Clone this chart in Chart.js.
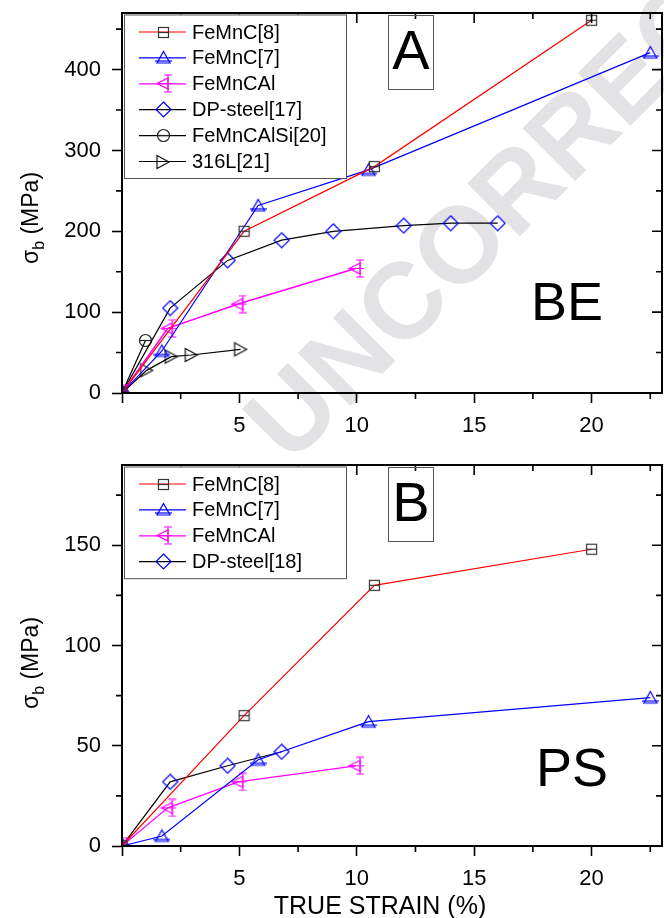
<!DOCTYPE html>
<html lang="en">
<head>
<meta charset="utf-8">
<title>Bulge stress vs. true strain</title>
<script src="https://cdn.jsdelivr.net/npm/chart.js"></script>
<style>
  body { margin: 0; background: #fff; }
  #page { position: relative; width: 664px; height: 918px; overflow: hidden; }
  #page canvas { position: absolute; left: 0; }
  #stamp { top: 0; z-index: 0; }
  #chartBE { top: 0; z-index: 1; }
  #chartPS { top: 445px; z-index: 1; }
</style>
</head>
<body>
<div id="page">
  <canvas id="stamp" width="664" height="918"></canvas>
  <canvas id="chartBE" width="664" height="445"></canvas>
  <canvas id="chartPS" width="664" height="473"></canvas>
</div>

<script>
// ---- data: true strain (%) vs sigma_b (MPa) ----

// panel A, biaxial expansion
const beFeMnC8X = [0, 5.2, 10.75, 20];
const beFeMnC8Y = [0, 200, 280, 461];
const beFeMnC7X = [0, 1.7, 5.8, 10.5, 22.5];
const beFeMnC7Y = [0, 52, 232, 276, 421];
const beFeMnCAlX = [0, 1.95, 4.95, 9.95];
const beFeMnCAlY = [0, 80, 110, 154];
const beDP17X = [0, 2.05, 4.5, 6.8, 9.0, 12.0, 14.0, 16.0];
const beDP17Y = [0, 105, 164, 189, 200, 207, 210, 210];
const beFeMnCAlSiX = [0, 1.0];
const beFeMnCAlSiY = [0, 65];
const be316LX = [0, 1.05, 2.1, 2.95, 5.05];
const be316LY = [0, 28, 45, 47, 54];

// panel B, plane strain
const psFeMnC8X = [0, 5.2, 10.75, 20];
const psFeMnC8Y = [0, 65, 130, 148];
const psFeMnC7X = [0, 1.7, 5.8, 10.5, 22.5];
const psFeMnC7Y = [0, 5, 43, 62, 74];
const psFeMnCAlX = [0, 1.95, 4.95, 9.95];
const psFeMnCAlY = [0, 19, 32, 40];
const psDP18X = [0, 2.05, 4.5, 6.8];
const psDP18Y = [0, 32, 40, 47];

// axis ticks
const xTicks = [0, 5, 10, 15, 20];
const xTickLabels = ['', '5', '10', '15', '20'];
const xMinor = [2.5, 7.5, 12.5, 17.5, 22.5];
const beYTicks = [0, 100, 200, 300, 400];
const beYMinor = [50, 150, 250, 350, 450];
const psYTicks = [0, 50, 100, 150];
const psYMinor = [25, 75, 125, 175];

const FONT = '"Liberation Sans", Arial, sans-serif';
Chart.defaults.font.family = FONT;
Chart.defaults.color = '#000';

// ---- point symbols, drawn once into small canvases ----
function marker(w, h, draw) {
  const c = document.createElement('canvas');
  c.width = w; c.height = h;
  const g = c.getContext('2d');
  g.lineWidth = 1.2;
  draw(g);
  return c;
}

const mkSquare = marker(13, 13, g => {
  g.strokeStyle = '#333';
  g.strokeRect(1.5, 1.5, 10, 10);
  g.beginPath(); g.moveTo(1.5, 6.5); g.lineTo(11.5, 6.5); g.stroke();
});
const mkTriUp = marker(17, 15, g => {
  g.strokeStyle = '#0000ff';
  g.beginPath(); g.moveTo(8.5, 1.5); g.lineTo(15, 13); g.lineTo(2, 13); g.closePath(); g.stroke();
  g.beginPath(); g.moveTo(0, 11); g.lineTo(17, 11); g.stroke();
});
const mkTriLeft = marker(19, 19, g => {
  g.strokeStyle = '#ff00ff';
  g.beginPath(); g.moveTo(3, 9.5); g.lineTo(14, 4); g.lineTo(14, 15); g.closePath(); g.stroke();
  g.beginPath();
  g.moveTo(3, 9.5); g.lineTo(18, 9.5);
  g.moveTo(14, 1); g.lineTo(14, 18);
  g.moveTo(10, 1); g.lineTo(18, 1);
  g.moveTo(10, 18); g.lineTo(18, 18);
  g.stroke();
});
const mkDiamond = marker(17, 17, g => {
  g.strokeStyle = '#0000ff';
  g.beginPath(); g.moveTo(8.5, 1); g.lineTo(16, 8.5); g.lineTo(8.5, 16); g.lineTo(1, 8.5); g.closePath(); g.stroke();
});
const mkCircle = marker(15, 15, g => {
  g.strokeStyle = '#222';
  g.beginPath(); g.arc(7.5, 7.5, 6, 0, Math.PI * 2); g.stroke();
  g.beginPath(); g.moveTo(1.5, 7.5); g.lineTo(13.5, 7.5); g.stroke();
});
const mkTriRight = marker(16, 16, g => {
  g.strokeStyle = '#111';
  g.beginPath(); g.moveTo(2, 1.5); g.lineTo(14, 8); g.lineTo(2, 14.5); g.closePath(); g.stroke();
});

function series(label, xs, ys, color, sym, width) {
  return {
    label,
    data: xs.map((x, i) => ({ x, y: ys[i] })),
    borderColor: color,
    backgroundColor: color,
    borderWidth: width || 1.2,
    pointStyle: sym,
    pointRadius: 6,
    pointHoverRadius: 6,
    tension: 0
  };
}

// ---- box frame, inner/minor ticks, legend, labels ----
const decor = {
  id: 'decor',
  afterDraw(chart, args, o) {
    const ctx = chart.ctx, a = chart.chartArea;
    const xs = chart.scales.x, ys = chart.scales.y;
    ctx.save();

    ctx.strokeStyle = '#000';
    ctx.lineWidth = 2;
    ctx.strokeRect(a.left, a.top, a.right - a.left, a.bottom - a.top);

    ctx.lineWidth = 1.6;
    ctx.beginPath();
    xTicks.forEach(v => {
      const px = xs.getPixelForValue(v);
      ctx.moveTo(px, a.top); ctx.lineTo(px, a.top + 10);
    });
    xMinor.forEach(v => {
      const px = xs.getPixelForValue(v);
      ctx.moveTo(px, a.top); ctx.lineTo(px, a.top + 6);
      ctx.moveTo(px, a.bottom); ctx.lineTo(px, a.bottom + 6);
    });
    o.yTicks.forEach(v => {
      const py = ys.getPixelForValue(v);
      ctx.moveTo(a.right, py); ctx.lineTo(a.right - 10, py);
    });
    o.yMinor.forEach(v => {
      const py = ys.getPixelForValue(v);
      ctx.moveTo(a.left, py); ctx.lineTo(a.left - 6, py);
      ctx.moveTo(a.right, py); ctx.lineTo(a.right - 6, py);
    });
    ctx.stroke();

    // legend
    const sets = chart.data.datasets;
    const lx = a.left + 2, ly = a.top + 1.5;
    const lw = 222, lh = 19 + (sets.length - 1) * 25.9 + 15;
    ctx.fillStyle = '#fff';
    ctx.fillRect(lx, ly, lw, lh);
    ctx.strokeStyle = '#555';
    ctx.lineWidth = 1;
    ctx.strokeRect(lx + 0.5, ly + 0.5, lw, lh);
    ctx.font = '20px ' + FONT;
    ctx.textBaseline = 'middle';
    ctx.textAlign = 'left';
    sets.forEach((ds, i) => {
      const ry = a.top + 19 + i * 25.9;
      ctx.strokeStyle = ds.borderColor;
      ctx.lineWidth = 1.2;
      ctx.beginPath(); ctx.moveTo(lx + 15, ry); ctx.lineTo(lx + 62, ry); ctx.stroke();
      const img = ds.pointStyle;
      ctx.drawImage(img, Math.round(lx + 39 - img.width / 2), Math.round(ry - img.height / 2));
      ctx.fillStyle = '#000';
      ctx.fillText(ds.label, lx + 68, ry + 1);
    });

    // panel letter in its box
    ctx.strokeStyle = '#555';
    ctx.lineWidth = 1;
    ctx.strokeRect(a.left + 266.5, a.top + 2.5, 45, 74);
    ctx.fillStyle = '#000';
    ctx.font = '56px ' + FONT;
    ctx.textAlign = 'center';
    ctx.fillText(o.letter, a.left + 289, a.top + 41);

    // forming mode
    ctx.font = '54px ' + FONT;
    ctx.fillText(o.mode, a.right - o.modeDx, a.top + o.modeDy);

    // y title: sigma_b (MPa)
    ctx.translate(38, 218);
    ctx.rotate(-Math.PI / 2);
    ctx.textAlign = 'left';
    ctx.textBaseline = 'alphabetic';
    const big = '23px ' + FONT, small = '16px ' + FONT;
    ctx.font = big;
    const wS = ctx.measureText('\u03c3').width;
    const wT = ctx.measureText(' (MPa)').width;
    ctx.font = small;
    const wB = ctx.measureText('b').width;
    let tx = -(wS + wB + wT) / 2;
    ctx.font = big; ctx.fillText('\u03c3', tx, 0); tx += wS;
    ctx.font = small; ctx.fillText('b', tx, 6); tx += wB;
    ctx.font = big; ctx.fillText(' (MPa)', tx, 0);
    ctx.setTransform(1, 0, 0, 1, 0, 0);

    if (o.xTitle) {
      ctx.font = '25px ' + FONT;
      ctx.textAlign = 'center';
      ctx.textBaseline = 'middle';
      ctx.fillText(o.xTitle, 380, o.xTitleY);
    }
    ctx.restore();
  }
};

function panel(id, sets, yMax, yTicks, yMinor, o) {
  return new Chart(document.getElementById(id), {
    type: 'line',
    data: { datasets: sets },
    options: {
      responsive: false,
      animation: false,
      layout: { autoPadding: false, padding: { top: o.top, right: 2, bottom: 0, left: 0 } },
      plugins: {
        legend: { display: false },
        tooltip: { enabled: false },
        decor: Object.assign({ yTicks, yMinor }, o)
      },
      scales: {
        x: {
          type: 'linear', min: 0, max: 23,
          afterBuildTicks: s => { s.ticks = xTicks.map(v => ({ value: v })); },
          afterFit: s => { s.height = o.xAxisH; s.paddingLeft = 0; s.paddingRight = 0; },
          ticks: { callback: (v, i) => xTickLabels[i], font: { size: 22 }, padding: 10, maxRotation: 0, autoSkip: false },
          grid: { drawOnChartArea: false, tickLength: 10, tickWidth: 1.6, tickColor: '#000' },
          border: { color: '#000', width: 2 }
        },
        y: {
          type: 'linear', min: 0, max: yMax,
          afterBuildTicks: s => { s.ticks = yTicks.map(v => ({ value: v })); },
          afterFit: s => { s.width = 122; s.paddingTop = 0; s.paddingBottom = 0; },
          ticks: { font: { size: 22 }, padding: 11 },
          grid: { drawOnChartArea: false, tickLength: 10, tickWidth: 1.6, tickColor: '#000' },
          border: { color: '#000', width: 2 }
        }
      }
    },
    plugins: [decor]
  });
}

panel('chartBE', [
  series('FeMnC[8]', beFeMnC8X, beFeMnC8Y, '#ff0000', mkSquare),
  series('FeMnC[7]', beFeMnC7X, beFeMnC7Y, '#0000ff', mkTriUp),
  series('FeMnCAl', beFeMnCAlX, beFeMnCAlY, '#ff00ff', mkTriLeft, 1.6),
  series('DP-steel[17]', beDP17X, beDP17Y, '#000000', mkDiamond),
  series('FeMnCAlSi[20]', beFeMnCAlSiX, beFeMnCAlSiY, '#000000', mkCircle),
  series('316L[21]', be316LX, be316LY, '#000000', mkTriRight)
], 470, beYTicks, beYMinor, { top: 13, xAxisH: 52, letter: 'A', mode: 'BE', modeDx: 95, modeDy: 292 });

panel('chartPS', [
  series('FeMnC[8]', psFeMnC8X, psFeMnC8Y, '#ff0000', mkSquare),
  series('FeMnC[7]', psFeMnC7X, psFeMnC7Y, '#0000ff', mkTriUp),
  series('FeMnCAl', psFeMnCAlX, psFeMnCAlY, '#ff00ff', mkTriLeft),
  series('DP-steel[18]', psDP18X, psDP18Y, '#000000', mkDiamond)
], 190, psYTicks, psYMinor, { top: 20, xAxisH: 72, letter: 'B', mode: 'PS', modeDx: 90, modeDy: 306, xTitle: 'TRUE STRAIN (%)', xTitleY: 462 });

// grey proof stamp behind both panels
const stamp = document.getElementById('stamp').getContext('2d');
stamp.save();
stamp.translate(290, 466);
stamp.rotate(-Math.PI / 4);
stamp.font = 'bold 108px ' + FONT;
stamp.fillStyle = '#e3e3e6';
stamp.fillText('UNCORRECTED', 0, 0);
stamp.restore();
</script>
</body>
</html>
